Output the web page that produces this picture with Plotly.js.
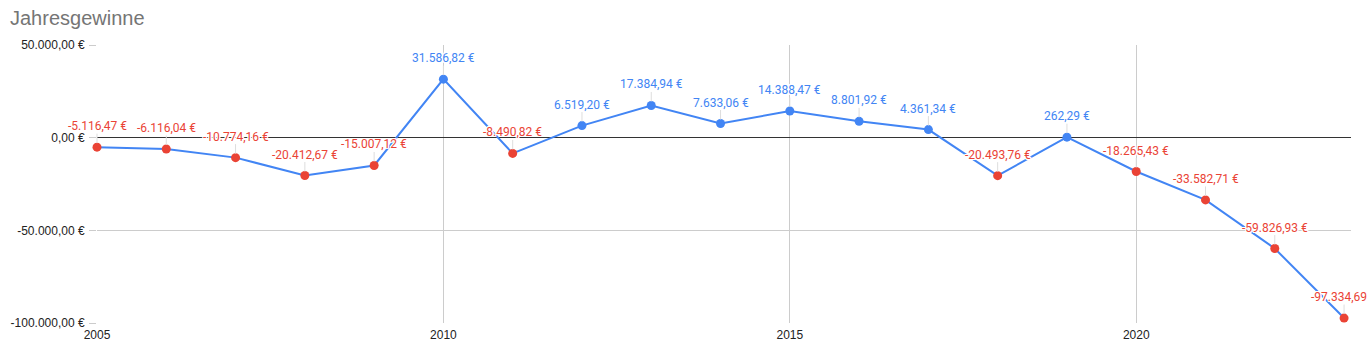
<!DOCTYPE html>
<html>
<head>
<meta charset="utf-8">
<script src="https://cdn.plot.ly/plotly-3.0.1.min.js"></script>
<style>
html,body{margin:0;padding:0;background:#fff;}
#chart{width:1368px;height:355px;}
</style>
</head>
<body>
<div id="chart"></div>
<script>
const years = [2005,2006,2007,2008,2009,2010,2011,2012,2013,2014,2015,2016,2017,2018,2019,2020,2021,2022,2023];
const profits = [-5116.47,-6116.04,-10774.16,-20412.67,-15007.12,31586.82,-8490.82,6519.20,17384.94,7633.06,14388.47,8801.92,4361.34,-20493.76,262.29,-18265.43,-33582.71,-59826.93,-97334.69];
const yTicks = [-100000,-50000,0,50000];
const yTickLabels = ["-100.000,00 €","-50.000,00 €","0,00 €","50.000,00 €"];
const xTicks = [2005,2010,2015,2020];
const chartTitle = "Jahresgewinne";

const BLUE = "#4285f4", RED = "#ea4335";

function fmt(v){
  const neg = v < 0;
  const a = Math.abs(v).toFixed(2).split(".");
  const intPart = a[0].replace(/\B(?=(\d{3})+(?!\d))/g, ".");
  return (neg ? "-" : "") + intPart + "," + a[1] + " €";
}

const colors = profits.map(v => v < 0 ? RED : BLUE);
const halo = "-1px -1px 0 #fff, 1px -1px 0 #fff, -1px 1px 0 #fff, 1px 1px 0 #fff, 0 -1px 0 #fff, 0 1px 0 #fff, -1px 0 0 #fff, 1px 0 0 #fff";

const annotations = years.map((x,i) => ({
  x: x, y: profits[i], xref: "x", yref: "y",
  text: fmt(profits[i]),
  showarrow: true, arrowhead: 0, arrowwidth: 1, arrowcolor: "#dddddd",
  ax: 0, ay: -21, standoff: 4, borderpad: 0,
  font: {family: "Roboto, Arial, sans-serif", size: 12, color: colors[i], shadow: halo}
}));

const trace = {
  x: years, y: profits, type: "scatter", mode: "lines+markers",
  line: {color: BLUE, width: 2},
  marker: {color: colors, size: 9},
  hoverinfo: "x+y", cliponaxis: false
};

const layout = {
  width: 1368, height: 355,
  margin: {l: 97, r: 17, t: 45, b: 32},
  paper_bgcolor: "#fff", plot_bgcolor: "#fff",
  separators: ",.",
  showlegend: false,
  title: {text: chartTitle, x: 10/1368, xref: "container", xanchor: "left", y: 1 - 18/355, yref: "container", yanchor: "middle",
          pad: {l: 0, t: 0, r: 0, b: 0}, font: {family: "Arial, 'Liberation Sans', sans-serif", size: 20, color: "#757575"}},
  xaxis: {
    range: [2005, 2023.1], tickvals: xTicks, ticktext: xTicks.map(String),
    showgrid: true, gridcolor: "#cccccc", gridwidth: 1,
    zeroline: false, showline: false, ticks: "", ticklabelstandoff: 3,
    tickfont: {family: "Arial, 'Liberation Sans', sans-serif", size: 12, color: "#222"},
    fixedrange: true
  },
  yaxis: {
    range: [-100000, 50000], tickvals: yTicks, ticktext: yTickLabels,
    showgrid: true, gridcolor: "#cccccc", gridwidth: 1,
    zeroline: true, zerolinecolor: "#333333", zerolinewidth: 1,
    showline: false, ticks: "outside", ticklen: 7, tickcolor: "#cccccc", ticklabelstandoff: 2,
    tickfont: {family: "Arial, 'Liberation Sans', sans-serif", size: 12, color: "#222"},
    fixedrange: true
  },
  annotations: annotations
};

Plotly.newPlot("chart", [trace], layout, {displayModeBar: false, staticPlot: true});
</script>
</body>
</html>
